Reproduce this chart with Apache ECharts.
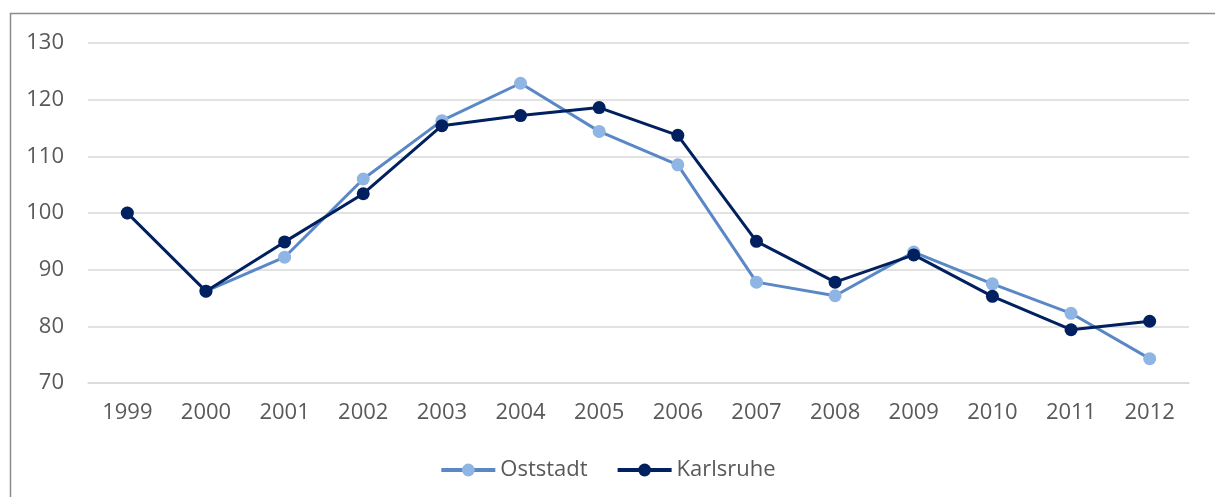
<!DOCTYPE html>
<html>
<head>
<meta charset="utf-8">
<script src="https://cdn.jsdelivr.net/npm/echarts@6/dist/echarts.min.js"></script>
<style>
html,body{margin:0;padding:0;background:#fff;}
#chart{width:1215px;height:497px;}
</style>
</head>
<body>
<div id="chart"></div>
<script>
const years = ['1999','2000','2001','2002','2003','2004','2005','2006','2007','2008','2009','2010','2011','2012'];
const oststadt = [100, 86.2, 92.2, 106, 116.3, 122.9, 114.4, 108.5, 87.8, 85.4, 93.1, 87.5, 82.3, 74.3];
const karlsruhe = [100, 86.2, 94.9, 103.4, 115.4, 117.2, 118.6, 113.7, 95.0, 87.8, 92.6, 85.3, 79.4, 80.9];
const seriesNames = ['Oststadt', 'Karlsruhe'];

const chart = echarts.init(document.getElementById('chart'));
const font = '"Open Sans", "Noto Sans", sans-serif';
chart.setOption({
  animation: false,
  textStyle: {fontFamily: font},
  graphic: [{
    type: 'polyline',
    shape: {points: [[10.5, 497], [10.5, 13.5], [1215, 13.5]]},
    style: {stroke: '#8c8c8c', lineWidth: 1.5, fill: null}
  }],
  grid: {left: 88, right: 26, top: 43, bottom: 114},
  legend: {
    top: 454,
    left: 'center',
    itemWidth: 54,
    itemHeight: 16,
    itemGap: 28,
    lineStyle: {width: 4},
    textStyle: {color: '#595959', fontSize: 22, fontFamily: font},
    data: seriesNames
  },
  xAxis: {
    type: 'category',
    data: years,
    boundaryGap: true,
    axisLine: {show: true, lineStyle: {color: '#d9d9d9', width: 1.5}},
    axisTick: {show: false},
    axisLabel: {color: '#595959', fontSize: 22, margin: 19, fontFamily: font}
  },
  yAxis: {
    type: 'value',
    min: 70, max: 130, interval: 10,
    axisLine: {show: false},
    axisTick: {show: false},
    splitLine: {lineStyle: {color: '#d9d9d9', width: 1.5}},
    axisLabel: {color: '#595959', fontSize: 22, margin: 24, fontFamily: font}
  },
  series: [
    {
      name: seriesNames[0],
      type: 'line',
      data: oststadt,
      symbol: 'circle',
      symbolSize: 13,
      lineStyle: {color: '#5a88c7', width: 3},
      itemStyle: {color: '#8fb5e4', borderWidth: 0},
      z: 2
    },
    {
      name: seriesNames[1],
      type: 'line',
      data: karlsruhe,
      symbol: 'circle',
      symbolSize: 13,
      lineStyle: {color: '#002060', width: 3},
      itemStyle: {color: '#002060', borderWidth: 0},
      z: 3
    }
  ]
});
</script>
</body>
</html>
